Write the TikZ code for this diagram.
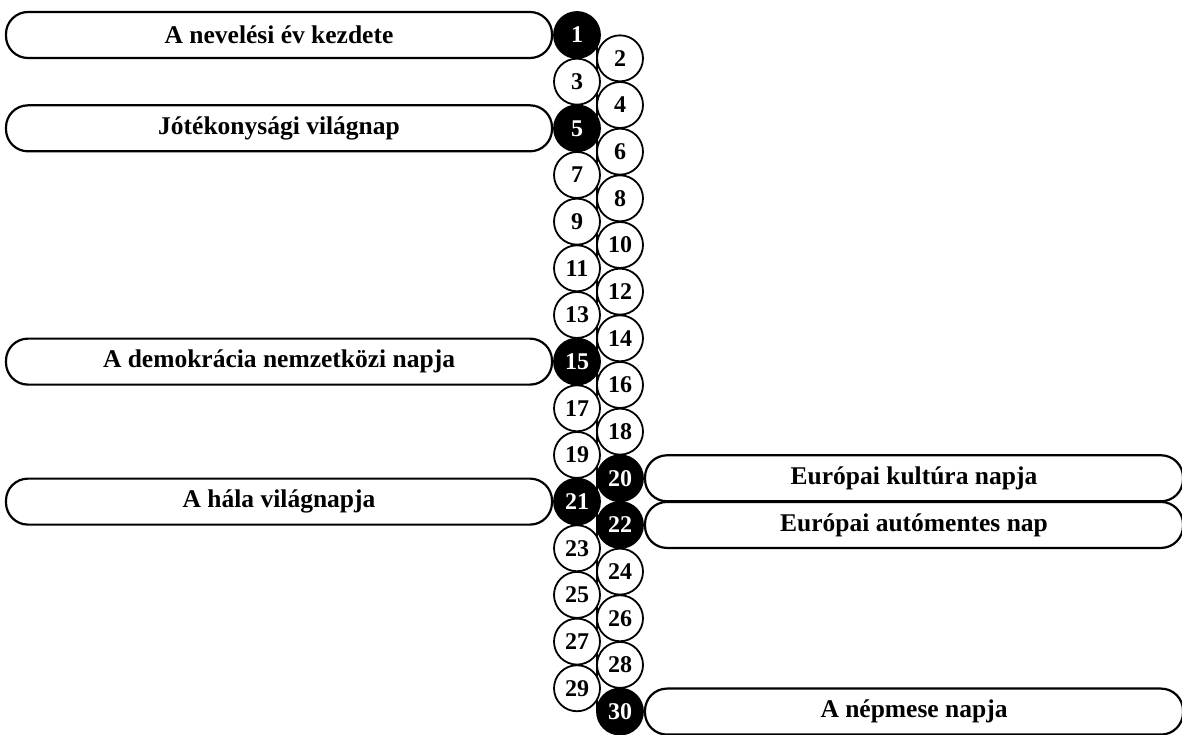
\documentclass[tikz,border=0pt]{standalone}
\usepackage{fontspec}
\setmainfont{Liberation Serif}
\usetikzlibrary{positioning}

\begin{document}
\begin{tikzpicture}[
  x=1pt, y=-1pt,
  day/.style={circle, draw, line width=1.8pt, minimum size=46pt, inner sep=0pt, fill=white, font=\fontsize{24}{24}\selectfont\bfseries},
  holiday/.style={day, fill=black, text=white},
  event/.style={rectangle, draw, line width=2.2pt, rounded corners=22pt, minimum height=46pt, align=center, font=\fontsize{25.5}{25.5}\selectfont\bfseries},
  leftevent/.style={event, minimum width=546pt},
  rightevent/.style={event, minimum width=538pt},
  spine/.style={line width=1.2pt}
]
\useasboundingbox (0,0) rectangle (1182,734);
\coordinate (top) at (597,35);
\coordinate (bottom) at (597,712);
\draw[spine] (top) -- (bottom);
% day circles, odd ones left, even ones right
\foreach \d/\s in {1/holiday,2/day,3/day,4/day,5/holiday,6/day,7/day,8/day,9/day,10/day,
                   11/day,12/day,13/day,14/day,15/holiday,16/day,17/day,18/day,19/day,20/holiday,
                   21/holiday,22/holiday,23/day,24/day,25/day,26/day,27/day,28/day,29/day,30/holiday} {
  \pgfmathsetmacro{\cx}{isodd(\d) ? 577 : 620}
  \pgfmathsetmacro{\cy}{35 + (\d-1)*23.33}
  \node[\s] (c\d) at (\cx,\cy) {\d};
}
% events
\node[leftevent, left=0pt of c1] (e1) {A nevelési év kezdete};
\node[leftevent, left=0pt of c5] (e5) {Jótékonysági világnap};
\node[leftevent, left=0pt of c15] (e15) {A demokrácia nemzetközi napja};
\node[leftevent, left=0pt of c21] (e21) {A hála világnapja};
\node[rightevent, right=0pt of c20] (e20) {Európai kultúra napja};
\node[rightevent, right=0pt of c22] (e22) {Európai autómentes nap};
\node[rightevent, right=0pt of c30] (e30) {A népmese napja};
\end{tikzpicture}
\end{document}
